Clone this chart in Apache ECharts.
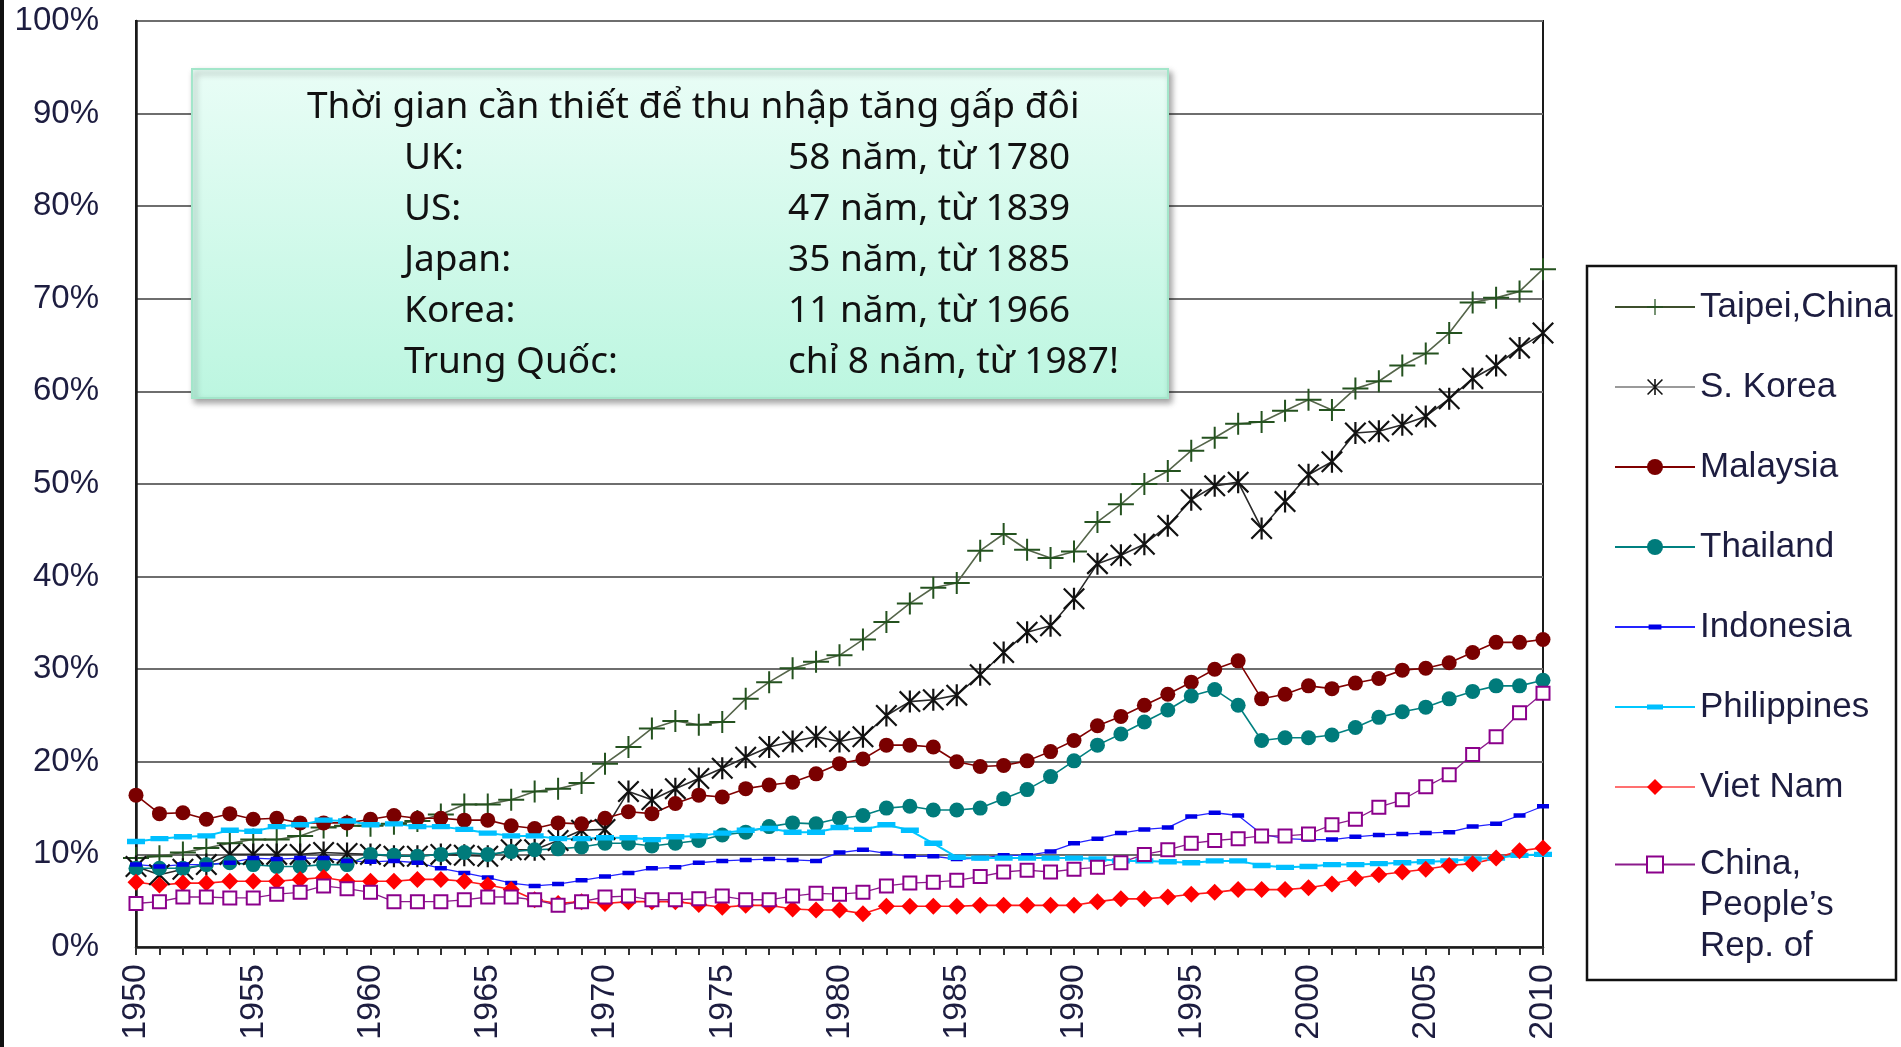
<!DOCTYPE html>
<html>
<head>
<meta charset="utf-8">
<title>Thu nhập tương đối so với Mỹ</title>
<script src="https://cdn.jsdelivr.net/npm/echarts@6/dist/echarts.min.js"></script>
<style>
html, body { margin: 0; padding: 0; background: #fff; }
#chart { width: 1901px; height: 1047px; }
</style>
</head>
<body>
<div id="chart"></div>
<script>
var years = ['1950','1951','1952','1953','1954','1955','1956','1957','1958','1959',
    '1960','1961','1962','1963','1964','1965','1966','1967','1968','1969',
    '1970','1971','1972','1973','1974','1975','1976','1977','1978','1979',
    '1980','1981','1982','1983','1984','1985','1986','1987','1988','1989',
    '1990','1991','1992','1993','1994','1995','1996','1997','1998','1999',
    '2000','2001','2002','2003','2004','2005','2006','2007','2008','2009','2010'];

var taipei = [9.6,9.8,10.2,10.7,11.2,11.6,11.6,12.0,12.9,13.1,
    13.1,13.3,13.6,14.3,15.4,15.4,15.9,16.8,17.1,17.7,
    19.8,21.6,23.6,24.4,24.0,24.3,26.8,28.6,30.1,30.8,
    31.5,33.2,35.1,37.1,38.8,39.3,42.8,44.6,42.9,42.0,
    42.7,45.9,47.8,50.0,51.4,53.6,55.0,56.5,56.7,57.9,
    59.1,58.0,60.3,61.1,62.8,64.1,66.3,69.6,70.1,70.8,73.2];
var korea = [8.7,7.8,8.4,8.9,10.0,10.0,10.0,10.0,10.2,10.1,
    10.0,9.8,9.8,10.0,9.9,9.8,10.5,10.5,11.5,12.6,
    12.7,16.8,15.9,17.1,18.2,19.3,20.5,21.6,22.2,22.7,
    22.2,22.7,25.0,26.5,26.7,27.2,29.4,31.8,34.0,34.7,
    37.6,41.4,42.3,43.5,45.5,48.3,49.8,50.2,45.2,48.1,
    51.0,52.4,55.5,55.7,56.4,57.3,59.2,61.4,62.8,64.7,66.3];
var malaysia = [16.4,14.4,14.5,13.8,14.4,13.8,13.9,13.4,13.4,13.4,
    13.8,14.2,13.9,13.9,13.7,13.7,13.1,12.8,13.4,13.3,
    13.9,14.6,14.4,15.5,16.4,16.2,17.1,17.5,17.8,18.7,
    19.8,20.3,21.8,21.8,21.6,20.0,19.5,19.6,20.1,21.1,
    22.3,23.9,24.9,26.1,27.3,28.6,30.0,30.9,26.8,27.3,
    28.2,27.9,28.5,29.0,29.9,30.1,30.7,31.8,32.9,32.9,33.2];
var thailand = [8.5,8.5,8.5,8.9,9.1,8.9,8.7,8.7,8.9,8.9,
    10.0,9.9,9.8,10.0,10.2,10.0,10.3,10.5,10.6,10.8,
    11.2,11.2,10.9,11.2,11.5,12.1,12.4,13.0,13.4,13.3,
    13.9,14.2,15.0,15.2,14.8,14.8,15.0,16.0,17.0,18.4,
    20.1,21.8,23.0,24.3,25.6,27.1,27.8,26.1,22.3,22.6,
    22.6,22.9,23.7,24.8,25.4,25.9,26.8,27.6,28.2,28.2,28.8];
var indonesia = [8.9,8.7,8.9,8.9,9.1,9.6,9.5,9.6,9.6,9.3,
    9.2,9.3,9.1,8.5,8.0,7.5,6.9,6.6,6.8,7.2,
    7.6,8.0,8.5,8.6,9.1,9.3,9.4,9.5,9.4,9.3,
    10.2,10.5,10.1,9.8,9.8,9.5,9.6,9.9,9.9,10.3,
    11.2,11.7,12.3,12.7,12.9,14.1,14.5,14.2,12.2,11.7,
    11.6,11.6,11.9,12.1,12.2,12.3,12.4,13.0,13.3,14.2,15.2];
var philippines = [11.4,11.7,11.9,12.0,12.6,12.5,13.0,13.2,13.7,13.6,
    13.2,13.3,13.0,13.0,12.7,12.3,12.0,12.0,11.7,11.7,
    11.8,11.8,11.6,11.9,12.0,12.3,12.6,12.8,12.4,12.4,
    12.9,12.7,13.2,12.6,11.2,9.7,9.6,9.6,9.6,9.6,
    9.6,9.5,9.3,9.3,9.2,9.1,9.3,9.3,8.8,8.6,
    8.7,8.9,8.9,9.0,9.1,9.2,9.3,9.5,9.6,9.9,10.0];
var vietnam = [7.0,6.7,6.9,6.9,7.1,7.1,7.1,7.3,7.5,7.1,
    7.1,7.1,7.3,7.3,7.1,6.7,6.2,5.1,4.7,4.9,
    4.7,4.9,4.9,4.9,4.6,4.3,4.5,4.5,4.1,4.0,
    4.0,3.6,4.4,4.4,4.4,4.4,4.5,4.5,4.5,4.5,
    4.5,4.9,5.2,5.2,5.4,5.7,5.9,6.2,6.2,6.2,
    6.4,6.8,7.4,7.8,8.1,8.4,8.8,9.0,9.6,10.4,10.7];
var china = [4.7,4.9,5.4,5.4,5.3,5.3,5.7,5.9,6.6,6.3,
    5.9,4.9,4.9,4.9,5.1,5.4,5.4,5.1,4.5,4.9,
    5.4,5.5,5.1,5.1,5.2,5.5,5.1,5.1,5.5,5.8,
    5.7,5.9,6.6,6.9,7.0,7.2,7.6,8.1,8.3,8.1,
    8.4,8.6,9.1,10.0,10.5,11.2,11.5,11.7,12.0,12.0,
    12.2,13.2,13.8,15.1,15.9,17.3,18.6,20.8,22.7,25.3,27.4];

var names = ['Taipei,China', 'S. Korea', 'Malaysia', 'Thailand', 'Indonesia',
    'Philippines', 'Viet Nam', 'China,\nPeople\u2019s\nRep. of'];

var boxTitle = 'Thời gian cần thiết để thu nhập tăng gấp đôi';
var boxLabels = ['UK:', 'US:', 'Japan:', 'Korea:', 'Trung Quốc:'];
var boxValues = ['58 năm, từ 1780', '47 năm, từ 1839', '35 năm, từ 1885', '11 năm, từ 1966', 'chỉ 8 năm, từ 1987!'];

// marker shapes
var plusPath = 'path://M0,10 H26 V12 H0 Z M12,0 H14 V22 H12 Z';
var starPath = 'path://M9,0 H11 V20 H9 Z M1.4,0 L20,18.6 L18.6,20 L0,1.4 Z M18.6,0 L20,1.4 L1.4,20 L0,18.6 Z';
// dashes drawn inside a square box (tiny corner dots keep the box square)
var dashThin = 'path://M0,0 L0.01,0 L0,0.01 Z M2,7 H18 V13 H2 Z M20,20 L19.99,20 L20,19.99 Z';
var dashWide = 'path://M0,0 L0.01,0 L0,0.01 Z M0,7 H20 V13 H0 Z M20,20 L19.99,20 L20,19.99 Z';

var textColor = '#1d1d40';
var axisFont = '"Liberation Sans", Arial, sans-serif';
var boxFont = '"Noto Sans", "Open Sans", sans-serif';

function makeSeries(name, data, lineColor, lineWidth, symbol, size, markColor, extra) {
    var s = {
        name: name,
        type: 'line',
        data: data,
        symbol: symbol,
        symbolSize: size,
        showSymbol: true,
        showAllSymbol: true,
        animation: false,
        lineStyle: { color: lineColor, width: lineWidth },
        itemStyle: { color: markColor, borderWidth: 0 }
    };
    if (extra) {
        for (var k in extra) s[k] = extra[k];
    }
    return s;
}

var series = [
    makeSeries(names[0], taipei, '#55654a', 1.6, plusPath, [26, 22], '#24521f'),
    makeSeries(names[1], korea, '#2a2a2a', 1.6, starPath, [22, 22], '#111111'),
    makeSeries(names[2], malaysia, '#800000', 1.6, 'circle', 15, '#7a0000'),
    makeSeries(names[3], thailand, '#008080', 1.6, 'circle', 15, '#007b7b'),
    makeSeries(names[4], indonesia, '#2424ff', 1.3, dashThin, [15, 15], '#0000e6'),
    makeSeries(names[5], philippines, '#00c8ff', 2, dashWide, [18, 18], '#00bfff'),
    makeSeries(names[6], vietnam, '#ff1a1a', 1.6, 'diamond', 17, '#ff0000'),
    makeSeries(names[7], china, '#8b1a8b', 1.3, 'emptyRect', 13, '#8b008b',
        { itemStyle: { color: '#8b008b', borderColor: '#8b008b', borderWidth: 2 } })
];

var legendItems = [
    { name: names[0], lineStyle: { color: '#3d4f2c' } },
    { name: names[1], lineStyle: { color: '#9a9a9a', width: 2 } },
    names[2], names[3], names[4], names[5],
    { name: names[6], lineStyle: { color: '#ff7070' } }
];

var boxItems = [
    {
        type: 'rect',
        z: 100,
        shape: { x: 192, y: 69, width: 976, height: 329 },
        style: {
            fill: new echarts.graphic.LinearGradient(0, 0, 0, 1, [
                { offset: 0, color: '#e9fdf6' },
                { offset: 1, color: '#bcf6e0' }
            ]),
            stroke: '#a3e6ca',
            lineWidth: 2,
            shadowBlur: 6,
            shadowOffsetX: 3,
            shadowOffsetY: 4,
            shadowColor: 'rgba(0,0,0,0.35)'
        }
    },
    {
        type: 'text',
        z: 101,
        style: { text: boxTitle, x: 307, y: 107, font: '37px ' + boxFont, fill: '#111', verticalAlign: 'middle' }
    }
];
for (var i = 0; i < boxLabels.length; i++) {
    var cy = 158 + i * 51;
    boxItems.push({
        type: 'text',
        z: 101,
        style: { text: boxLabels[i], x: 404, y: cy, font: '37px ' + boxFont, fill: '#111', verticalAlign: 'middle' }
    });
    boxItems.push({
        type: 'text',
        z: 101,
        style: { text: boxValues[i], x: 788, y: cy, font: '37px ' + boxFont, fill: '#111', verticalAlign: 'middle' }
    });
}

var option = {
    backgroundColor: '#ffffff',
    animation: false,
    grid: {
        left: 136,
        right: 358,
        top: 21,
        bottom: 100,
        show: true,
        borderColor: '#1a1a1a',
        borderWidth: 2,
        containLabel: false
    },
    legend: [
        {
            orient: 'vertical',
            left: 1614,
            top: 287,
            padding: 0,
            itemGap: 40,
            itemWidth: 80,
            itemHeight: 20,
            selectedMode: false,
            data: legendItems,
            textStyle: { fontFamily: axisFont, fontSize: 35, color: textColor, lineHeight: 40 }
        },
        {
            // the long name: blank lines above so "China," sits level with the icon
            orient: 'vertical',
            left: 1614,
            top: 762,
            padding: 0,
            itemWidth: 80,
            itemHeight: 20,
            selectedMode: false,
            data: [names[7]],
            formatter: function (name) { return '\n\n' + name; },
            textStyle: { fontFamily: axisFont, fontSize: 35, color: textColor, lineHeight: 41 }
        }
    ],
    xAxis: {
        type: 'category',
        data: years,
        boundaryGap: false,
        axisLine: { show: true, lineStyle: { color: '#1a1a1a', width: 2.5 } },
        axisTick: { show: true, interval: 0, length: 8, lineStyle: { color: '#333', width: 2 } },
        axisLabel: {
            interval: 4,
            rotate: 90,
            margin: 17,
            fontFamily: axisFont,
            fontSize: 34,
            color: textColor
        },
        splitLine: { show: false }
    },
    yAxis: {
        type: 'value',
        min: 0,
        max: 100,
        interval: 10,
        axisLine: { show: true, lineStyle: { color: '#1a1a1a', width: 2.5 } },
        axisTick: { show: false },
        axisLabel: {
            formatter: '{value}%',
            margin: 37,
            fontFamily: axisFont,
            fontSize: 33,
            color: textColor
        },
        splitLine: { show: true, lineStyle: { color: '#6e6e6e', width: 2 } }
    },
    graphic: [
        {
            type: 'rect',
            z: 0,
            shape: { x: 1587, y: 266, width: 309, height: 714 },
            style: { fill: '#fff', stroke: '#111', lineWidth: 2.5 }
        },
        {
            type: 'rect',
            z: 0,
            shape: { x: 0, y: 0, width: 4, height: 1047 },
            style: { fill: '#111' }
        },
        {
            type: 'group',
            z: 100,
            children: boxItems
        }
    ],
    series: series
};

var chart = echarts.init(document.getElementById('chart'));
chart.setOption(option);
</script>
</body>
</html>
